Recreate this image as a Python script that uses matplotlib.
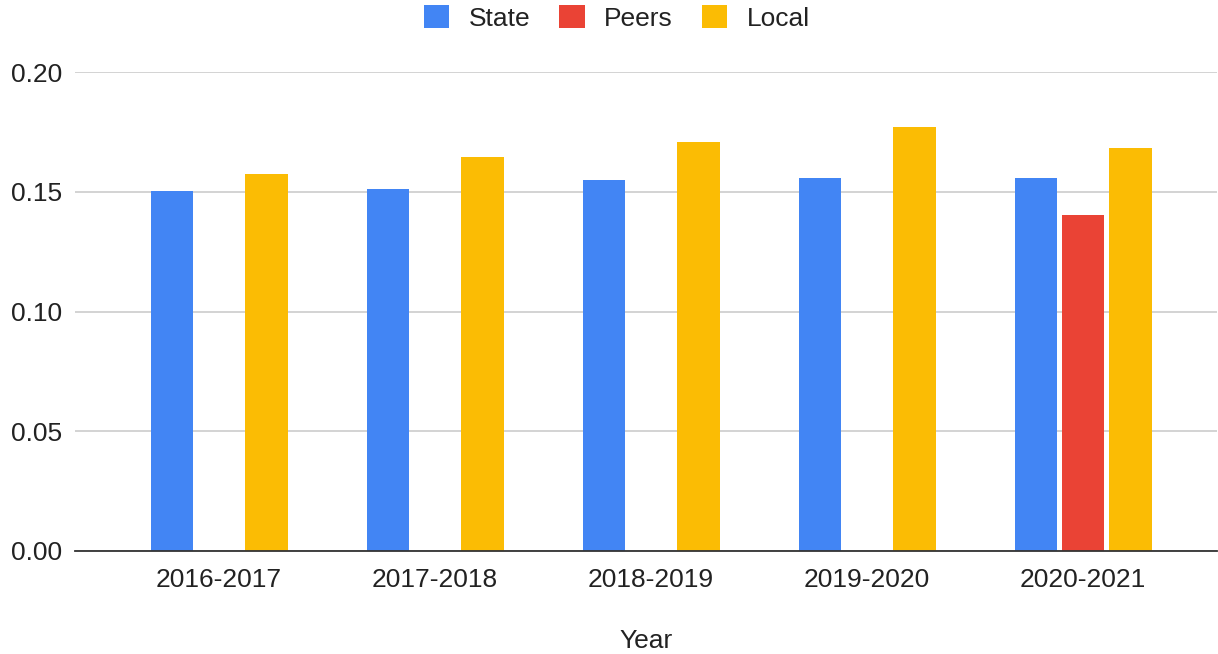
import numpy as np
import matplotlib.pyplot as plt

years = ["2016-2017", "2017-2018", "2018-2019", "2019-2020", "2020-2021"]
state = [0.1505, 0.1512, 0.1548, 0.1557, 0.1557]
peers = [np.nan, np.nan, np.nan, np.nan, 0.1402]
local = [0.1575, 0.1647, 0.1708, 0.1772, 0.1682]

plt.rcParams['font.family'] = ['Liberation Sans', 'DejaVu Sans']

fig = plt.figure(figsize=(12.18, 6.54), dpi=100)
ax = fig.add_axes([75 / 1218, 1 - 551 / 654, 1142 / 1218, (551 - 72) / 654])

x = np.arange(len(years))
w = 0.198
off = 0.218
ax.bar(x - off, state, w, color='#4285F4', label='State', zorder=3)
ax.bar(x, peers, w, color='#EA4335', label='Peers', zorder=3)
ax.bar(x + off, local, w, color='#FBBC04', label='Local', zorder=3)

ax.set_ylim(0, 0.2)
ax.set_xlim(-0.667, 4.62)
ax.set_yticks([0, 0.05, 0.10, 0.15, 0.20])
ax.set_yticklabels(["0.00", "0.05", "0.10", "0.15", "0.20"])
ax.set_xticks(x)
ax.set_xticklabels(years)
ax.tick_params(axis='both', length=0, labelsize=19, colors='#222222')
ax.tick_params(axis='y', pad=9)
ax.tick_params(axis='x', pad=12)
ax.grid(axis='y', color='#cccccc', linewidth=1.2, zorder=0)
for s in ['top', 'right', 'left']:
    ax.spines[s].set_visible(False)
ax.spines['bottom'].set_color('#333333')
ax.spines['bottom'].set_linewidth(1.3)
ax.spines['bottom'].set_zorder(4)

ax.set_xlabel("Year", fontsize=19, color='#222222', labelpad=27)

fig.legend(loc='upper center', bbox_to_anchor=(617 / 1218, 1.028), ncol=3,
           frameon=False, fontsize=19, handlelength=0.95, handleheight=0.95,
           handletextpad=0.75, columnspacing=1.1, labelcolor='#222222')

fig.savefig("out.png", dpi=100)
